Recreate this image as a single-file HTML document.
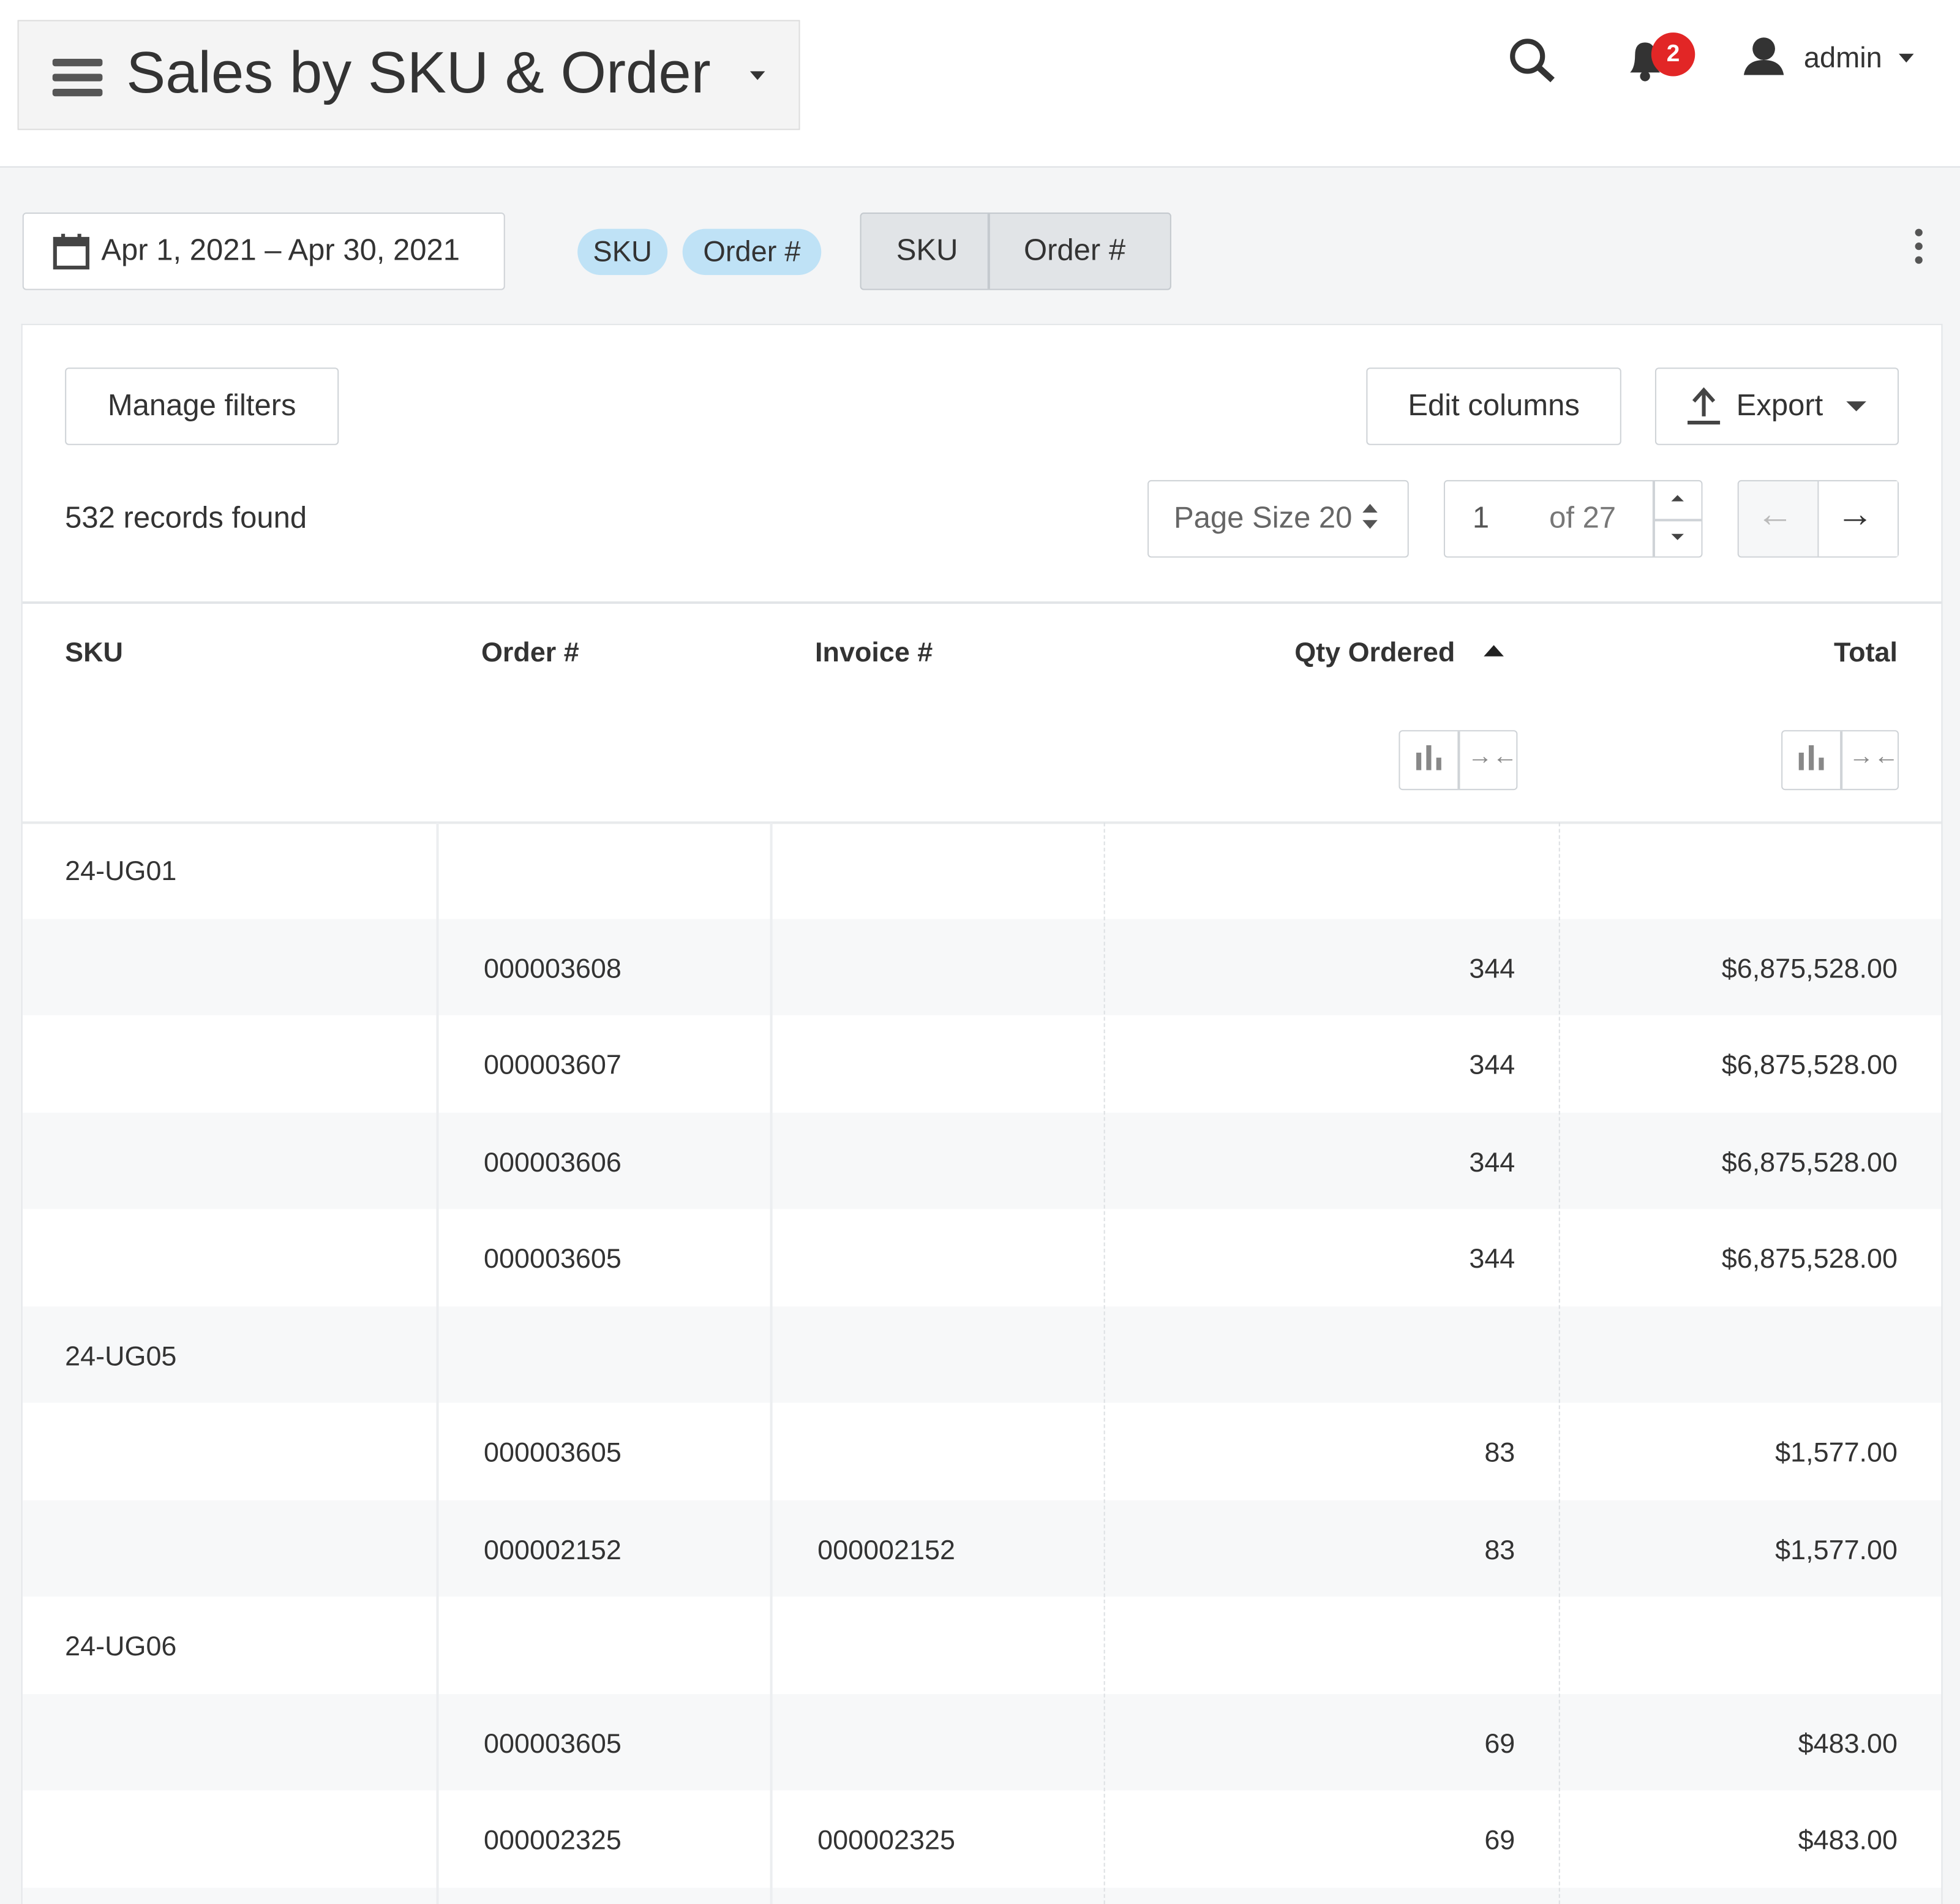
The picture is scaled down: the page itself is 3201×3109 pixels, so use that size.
<!DOCTYPE html>
<html><head><meta charset="utf-8"><style>
*{box-sizing:border-box;margin:0;padding:0}
html,body{width:3201px;height:3109px;overflow:hidden;background:#f4f5f6}
#w{position:absolute;left:0;top:0;width:1568px;height:1523px;overflow:hidden;transform:scale(2.0415);transform-origin:0 0;font-family:"Liberation Sans",sans-serif;color:#333;background:#f4f5f6}
.a{position:absolute}
.btn{position:absolute;background:#fff;border:1.5px solid #cfd3d7;border-radius:3px;font-size:24px;color:#333;display:flex;align-items:center;justify-content:center}
.t{position:absolute;font-size:22px;color:#333;white-space:nowrap}
.r{text-align:right}
.h{font-weight:bold;font-size:22px}
</style></head><body><div id="w">
<div class="a" style="left:0;top:0;width:1568px;height:134px;background:#fff;border-bottom:1.5px solid #dde0e3"></div>
<div class="a" style="left:14px;top:16px;width:626px;height:88px;background:#f4f4f4;border:1.5px solid #ddd"></div>
<div class="a" style="left:42px;top:47px;width:40px;height:6px;background:#555;border-radius:2px"></div>
<div class="a" style="left:42px;top:59px;width:40px;height:6px;background:#555;border-radius:2px"></div>
<div class="a" style="left:42px;top:71px;width:40px;height:6px;background:#555;border-radius:2px"></div>
<div class="t" style="left:101px;top:30px;font-size:47px;color:#333">Sales by SKU &amp; Order</div>
<div class="a" style="left:600px;top:57px;border:6px solid transparent;border-top:7px solid #333"></div>
<svg class="a" style="left:1205px;top:28px" width="42" height="40"><circle cx="17" cy="17" r="12" fill="none" stroke="#333" stroke-width="4"/><line x1="26" y1="26" x2="37" y2="36" stroke="#333" stroke-width="5"/></svg>
<svg class="a" style="left:1300px;top:30px" width="34" height="36"><path d="M4 28 Q8 24 8 14 Q8 4 16 4 Q24 4 24 14 Q24 24 28 28 Z" fill="#333"/><circle cx="16" cy="31" r="4" fill="#333"/></svg>
<div class="a" style="left:1321px;top:26px;width:35px;height:35px;border-radius:50%;background:#e22626;color:#fff;font-size:19px;font-weight:bold;text-align:center;line-height:35px">2</div>
<svg class="a" style="left:1393px;top:28px" width="36" height="34"><circle cx="18" cy="11" r="9" fill="#333"/><path d="M2 32 Q4 20 18 20 Q32 20 34 32 Z" fill="#333"/></svg>
<div class="t" style="left:1443px;top:33px;font-size:23px">admin</div>
<div class="a" style="left:1519px;top:43px;border:6px solid transparent;border-top:7px solid #333"></div>

<div class="btn" style="left:18px;top:170px;width:386px;height:62px;justify-content:flex-start;padding-left:62px">Apr 1, 2021 – Apr 30, 2021</div>
<svg class="a" style="left:42px;top:186px" width="30" height="30"><rect x="2" y="5" width="26" height="23" fill="none" stroke="#444" stroke-width="3"/><rect x="2" y="5" width="26" height="6" fill="#444"/><rect x="7" y="1" width="3" height="6" fill="#444"/><rect x="20" y="1" width="3" height="6" fill="#444"/></svg>
<div class="a" style="left:462px;top:183px;width:72px;height:37px;border-radius:19px;background:#bfe2f6;font-size:23px;text-align:center;line-height:37px;color:#333">SKU</div>
<div class="a" style="left:546px;top:183px;width:111px;height:37px;border-radius:19px;background:#bfe2f6;font-size:23px;text-align:center;line-height:37px;color:#333">Order #</div>
<div class="a" style="left:688px;top:170px;width:249px;height:62px;background:#e1e4e7;border:1.5px solid #c4c9ce;border-radius:3px"></div>
<div class="a" style="left:790px;top:171px;width:1.5px;height:60px;background:#c4c9ce"></div>
<div class="t" style="left:717px;top:187px;font-size:24px">SKU</div>
<div class="t" style="left:819px;top:187px;font-size:24px">Order #</div>
<div class="a" style="left:1532px;top:183px;width:6px;height:6px;border-radius:3px;background:#555"></div>
<div class="a" style="left:1532px;top:194px;width:6px;height:6px;border-radius:3px;background:#555"></div>
<div class="a" style="left:1532px;top:205px;width:6px;height:6px;border-radius:3px;background:#555"></div>

<div class="a" style="left:17px;top:259px;width:1537px;height:1264px;background:#fff;border:1.5px solid #e2e5e8;border-bottom:0"></div>
<div class="btn" style="left:52px;top:294px;width:219px;height:62px">Manage filters</div>
<div class="btn" style="left:1093px;top:294px;width:204px;height:62px">Edit columns</div>
<div class="btn" style="left:1324px;top:294px;width:195px;height:62px;justify-content:flex-start;padding-left:64px">Export</div>
<svg class="a" style="left:1348px;top:309px" width="30" height="32"><line x1="15" y1="4" x2="15" y2="24" stroke="#444" stroke-width="3"/><path d="M7 12 L15 3 L23 12" fill="none" stroke="#444" stroke-width="3"/><line x1="2" y1="29" x2="28" y2="29" stroke="#444" stroke-width="3"/></svg>
<div class="a" style="left:1477px;top:321px;border:8px solid transparent;border-top:8px solid #444"></div>
<div class="t" style="left:52px;top:401px;font-size:24px">532 records found</div>
<div class="btn" style="left:918px;top:384px;width:209px;height:62px;justify-content:flex-start;padding-left:20px;color:#666">Page Size 20</div>
<div class="a" style="left:1090px;top:403px;border:6px solid transparent;border-bottom:7px solid #555;border-top:0"></div>
<div class="a" style="left:1090px;top:416px;border:6px solid transparent;border-top:7px solid #555;border-bottom:0"></div>
<div class="btn" style="left:1155px;top:384px;width:207px;height:62px;justify-content:flex-start;padding-left:22px;color:#555">1<span style="margin-left:48px;color:#777">of 27</span></div>
<div class="a" style="left:1322px;top:385px;width:1.5px;height:60px;background:#cfd3d7"></div>
<div class="a" style="left:1323px;top:415px;width:38px;height:1.5px;background:#cfd3d7"></div>
<div class="a" style="left:1337px;top:396px;border:5px solid transparent;border-bottom:5px solid #444;border-top:0"></div>
<div class="a" style="left:1337px;top:427px;border:5px solid transparent;border-top:5px solid #444;border-bottom:0"></div>
<div class="btn" style="left:1390px;top:384px;width:129px;height:62px;background:#f6f7f8"></div>
<div class="a" style="left:1454px;top:385px;width:64px;height:60px;background:#fff;border-left:1.5px solid #cfd3d7"></div>
<div class="t" style="left:1405px;top:395px;font-size:30px;color:#bbb">←</div>
<div class="t" style="left:1469px;top:395px;font-size:30px;color:#333">→</div>
<div class="a" style="left:18px;top:481px;width:1535px;height:1.5px;background:#e2e5e8"></div>

<div class="t h" style="left:52px;top:509px">SKU</div>
<div class="t h" style="left:385px;top:509px">Order #</div>
<div class="t h" style="left:652px;top:509px">Invoice #</div>
<div class="t h r" style="left:964px;width:200px;top:509px">Qty Ordered</div>
<div class="a" style="left:1187px;top:516px;border:8px solid transparent;border-bottom:9px solid #222;border-top:0"></div>
<div class="t h r" style="left:1318px;width:200px;top:509px">Total</div>

<div class="btn" style="left:1119px;top:584px;width:95px;height:48px"></div>
<div class="a" style="left:1166px;top:585px;width:1.5px;height:46px;background:#cfd3d7"></div>
<div class="btn" style="left:1425px;top:584px;width:94px;height:48px"></div>
<div class="a" style="left:1472px;top:585px;width:1.5px;height:46px;background:#cfd3d7"></div>
<svg class="a" style="left:1131px;top:596px" width="24" height="22"><rect x="2" y="6" width="4" height="14" fill="#888"/><rect x="10" y="0" width="4" height="20" fill="#888"/><rect x="18" y="10" width="4" height="10" fill="#888"/></svg>
<svg class="a" style="left:1437px;top:596px" width="24" height="22"><rect x="2" y="6" width="4" height="14" fill="#888"/><rect x="10" y="0" width="4" height="20" fill="#888"/><rect x="18" y="10" width="4" height="10" fill="#888"/></svg>
<div class="t" style="left:1174px;top:594px;font-size:20px;color:#888">→←</div>
<div class="t" style="left:1479px;top:594px;font-size:20px;color:#888">→←</div>

<div class="a" style="left:18px;top:657px;width:1535px;height:1.5px;background:#e8eaec"></div>
<div class="a" style="left:18px;top:735px;width:1535px;height:77px;background:#f7f8f9"></div>
<div class="a" style="left:18px;top:890px;width:1535px;height:77px;background:#f7f8f9"></div>
<div class="a" style="left:18px;top:1045px;width:1535px;height:77px;background:#f7f8f9"></div>
<div class="a" style="left:18px;top:1200px;width:1535px;height:77px;background:#f7f8f9"></div>
<div class="a" style="left:18px;top:1355px;width:1535px;height:77px;background:#f7f8f9"></div>
<div class="a" style="left:18px;top:1510px;width:1535px;height:13px;background:#f7f8f9"></div>
<div class="a" style="left:349px;top:658px;width:2px;height:865px;background:#eceef0"></div>
<div class="a" style="left:616px;top:658px;width:2px;height:865px;background:#eceef0"></div>
<div class="a" style="left:883px;top:658px;height:865px;border-left:1.5px dashed #dde0e3"></div>
<div class="a" style="left:1247px;top:658px;height:865px;border-left:1.5px dashed #dde0e3"></div>

<div class="t" style="left:52px;top:684px">24-UG01</div>
<div class="t" style="left:387px;top:762px">000003608</div><div class="t r" style="left:1012px;width:200px;top:762px">344</div><div class="t r" style="left:1268px;width:250px;top:762px">$6,875,528.00</div>
<div class="t" style="left:387px;top:839px">000003607</div><div class="t r" style="left:1012px;width:200px;top:839px">344</div><div class="t r" style="left:1268px;width:250px;top:839px">$6,875,528.00</div>
<div class="t" style="left:387px;top:917px">000003606</div><div class="t r" style="left:1012px;width:200px;top:917px">344</div><div class="t r" style="left:1268px;width:250px;top:917px">$6,875,528.00</div>
<div class="t" style="left:387px;top:994px">000003605</div><div class="t r" style="left:1012px;width:200px;top:994px">344</div><div class="t r" style="left:1268px;width:250px;top:994px">$6,875,528.00</div>
<div class="t" style="left:52px;top:1072px">24-UG05</div>
<div class="t" style="left:387px;top:1149px">000003605</div><div class="t r" style="left:1012px;width:200px;top:1149px">83</div><div class="t r" style="left:1268px;width:250px;top:1149px">$1,577.00</div>
<div class="t" style="left:387px;top:1227px">000002152</div><div class="t" style="left:654px;top:1227px">000002152</div><div class="t r" style="left:1012px;width:200px;top:1227px">83</div><div class="t r" style="left:1268px;width:250px;top:1227px">$1,577.00</div>
<div class="t" style="left:52px;top:1304px">24-UG06</div>
<div class="t" style="left:387px;top:1382px">000003605</div><div class="t r" style="left:1012px;width:200px;top:1382px">69</div><div class="t r" style="left:1268px;width:250px;top:1382px">$483.00</div>
<div class="t" style="left:387px;top:1459px">000002325</div><div class="t" style="left:654px;top:1459px">000002325</div><div class="t r" style="left:1012px;width:200px;top:1459px">69</div><div class="t r" style="left:1268px;width:250px;top:1459px">$483.00</div>
</div></body></html>
